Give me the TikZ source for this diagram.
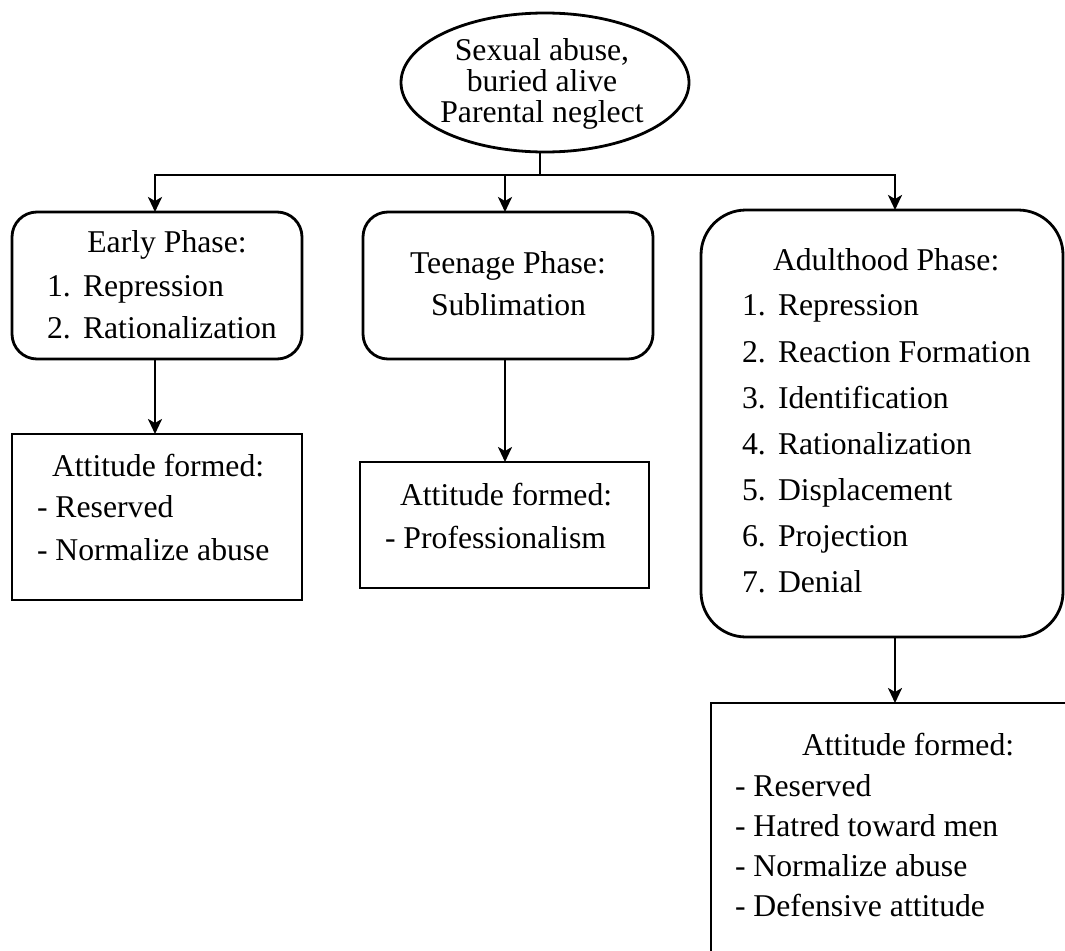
\documentclass[tikz,border=0pt]{standalone}
\usepackage{fontspec}
\setmainfont{Liberation Serif}
\usetikzlibrary{arrows.meta,shapes.geometric}
\begin{document}
\begin{tikzpicture}[x=1pt,y=-1pt,
  every node/.style={inner sep=0pt, outer sep=0pt},
  frame/.style={draw, line width=2.8pt},
  rbox/.style={frame, rectangle, rounded corners=25pt},
  sbox/.style={frame, rectangle},
  txt/.style={font=\fontsize{31.7}{40}\selectfont, anchor=base west},
  ctxt/.style={font=\fontsize{31.7}{40}\selectfont, anchor=base},
  arr/.style={line width=2.6pt, -{Stealth[length=15pt,width=14pt,inset=4pt]}},
  link/.style={line width=2.6pt}]
\useasboundingbox (0,0) rectangle (1065,950);
\clip (0,0) rectangle (1065,950);

% boxes
\node[frame, ellipse, minimum width=288, minimum height=139] (cause) at (545,82.5) {};
\node[rbox, minimum width=290, minimum height=147] (early) at (157,285.5) {};
\node[sbox, minimum width=290, minimum height=166] (eatt) at (157,517) {};
\node[rbox, minimum width=290, minimum height=147] (teen) at (508,285.5) {};
\node[sbox, minimum width=289, minimum height=126] (tatt) at (504.5,525) {};
\node[rbox, rounded corners=45pt, minimum width=362, minimum height=427] (adult) at (882,423.5) {};
\node[sbox, minimum width=389, minimum height=297] (aatt) at (905.5,851.5) {};

% connector coordinates
\coordinate (j) at (540,175);
\coordinate (ex) at (155,0);
\coordinate (tx) at (505,0);
\coordinate (ax) at (895,0);

\draw[link] (cause.south -| j) -- (j);
\draw[arr] (j) -| (early.north -| ex);
\draw[arr] (j) -| (teen.north -| tx);
\draw[arr] (j) -| (adult.north -| ax);
\draw[arr] (early.south -| ex) -- (eatt.north -| ex);
\draw[arr] (teen.south -| tx) -- (tatt.north -| tx);
\draw[arr] (adult.south -| ax) -- (aatt.north -| ax);

% texts
\node[ctxt] (c1) at (542,60) {Sexual abuse,};
\node[ctxt] (c2) at (542,91) {buried alive};
\node[ctxt] (c3) at (542,122) {Parental neglect};

\node[ctxt] (e0) at (167,252) {Early Phase:};
\node[txt] (e1n) at (47,296) {1.};
\node[txt] (e1) at (83,296) {Repression};
\node[txt] (e2n) at (47,338) {2.};
\node[txt] (e2) at (83,338) {Rationalization};

\node[txt] (ea0) at (52,476) {Attitude formed:};
\node[txt] (ea1) at (37,517) {- Reserved};
\node[txt] (ea2) at (37,560) {- Normalize abuse};

\node[txt] (t0) at (410,273) {Teenage Phase:};
\node[txt] (t1) at (431,315) {Sublimation};

\node[txt] (ta0) at (400,505) {Attitude formed:};
\node[txt] (ta1) at (385,548) {- Professionalism};

\node[txt] (a0) at (773,270) {Adulthood Phase:};
\node[txt] (a1n) at (742,315) {1.};
\node[txt] (a1) at (778,315) {Repression};
\node[txt] (a2n) at (742,362) {2.};
\node[txt] (a2) at (778,362) {Reaction Formation};
\node[txt] (a3n) at (742,408) {3.};
\node[txt] (a3) at (778,408) {Identification};
\node[txt] (a4n) at (742,454) {4.};
\node[txt] (a4) at (778,454) {Rationalization};
\node[txt] (a5n) at (742,500) {5.};
\node[txt] (a5) at (778,500) {Displacement};
\node[txt] (a6n) at (742,546) {6.};
\node[txt] (a6) at (778,546) {Projection};
\node[txt] (a7n) at (742,592) {7.};
\node[txt] (a7) at (778,592) {Denial};

\node[txt] (aa0) at (802,755) {Attitude formed:};
\node[txt] (aa1) at (735,796) {- Reserved};
\node[txt] (aa2) at (735,836) {- Hatred toward men};
\node[txt] (aa3) at (735,876) {- Normalize abuse};
\node[txt] (aa4) at (735,916) {- Defensive attitude};
\end{tikzpicture}
\end{document}
